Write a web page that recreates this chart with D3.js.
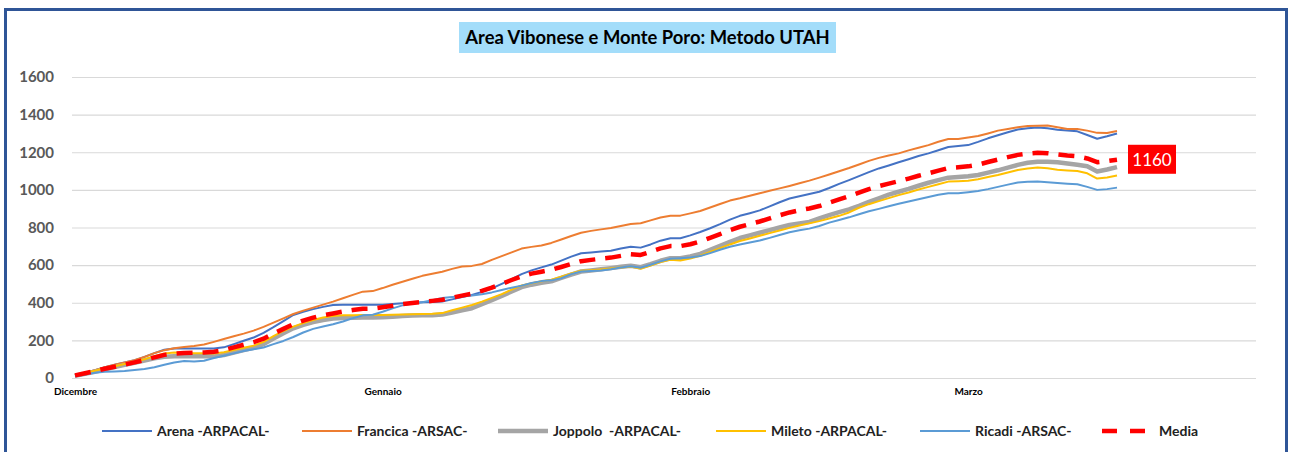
<!DOCTYPE html>
<html>
<head>
<meta charset="utf-8">
<script src="https://cdn.jsdelivr.net/npm/d3@7"></script>
<style>
  body { margin: 0; background: #fff; }
  svg { display: block; font-family: Lato, "Open Sans", sans-serif; }
</style>
</head>
<body>
<div id="chart"></div>
<script>
// daily readings, 1 Dec -> 16 Mar (index = day)
const arena = [15,28,42,57,70,82,95,112,132,150,157,157,157,157,157,163,180,198,215,240,270,302,335,352,366,378,388,390,390,390,390,390,393,397,400,402,404,407,418,430,441,458,476,500,525,552,572,588,603,624,645,663,667,672,676,688,698,693,710,730,743,743,758,776,796,818,842,862,876,891,912,934,954,966,978,990,1010,1032,1052,1073,1094,1114,1130,1147,1163,1180,1194,1211,1228,1233,1238,1255,1274,1290,1306,1321,1327,1331,1327,1320,1315,1311,1292,1272,1285,1300];
const francica = [15,28,42,57,70,82,95,112,132,148,158,165,170,178,192,207,222,236,252,272,294,317,340,358,374,390,406,424,442,459,462,478,496,512,528,543,554,565,580,593,596,606,628,648,668,688,697,704,718,736,755,772,782,790,797,808,819,823,838,853,863,863,875,888,906,925,943,955,969,982,995,1008,1021,1035,1049,1065,1082,1099,1116,1135,1154,1170,1183,1194,1210,1224,1238,1256,1270,1271,1278,1286,1300,1315,1324,1333,1339,1341,1342,1333,1324,1323,1315,1303,1302,1313];
const joppolo = [12,22,33,46,58,70,81,93,105,113,116,116,115,115,115,122,135,148,160,180,210,238,264,282,297,308,316,319,320,321,322,323,325,330,332,333,334,337,348,360,371,392,414,436,460,483,496,506,514,532,550,566,572,578,584,591,597,589,605,623,637,637,646,660,681,702,724,744,758,772,786,800,813,822,830,848,866,882,896,915,936,955,975,990,1005,1022,1038,1052,1065,1069,1072,1079,1092,1104,1118,1133,1144,1150,1150,1147,1140,1133,1126,1098,1108,1121];
const mileto = [15,27,39,52,63,74,86,100,116,130,135,134,132,131,130,137,149,161,172,192,222,250,273,292,308,322,330,333,334,335,335,335,336,338,339,340,341,345,360,374,388,406,426,446,470,492,504,514,522,538,556,570,573,577,582,587,592,581,598,616,628,624,635,650,670,690,710,728,742,756,770,784,798,811,822,834,848,862,880,905,924,940,956,972,986,1002,1016,1030,1044,1046,1048,1056,1068,1079,1092,1106,1114,1119,1115,1107,1103,1100,1088,1060,1066,1076];
const ricadi = [8,18,28,33,35,37,42,48,57,70,82,90,88,92,106,118,131,143,153,162,180,197,218,242,261,274,286,300,318,333,336,352,370,386,396,403,414,425,430,434,438,445,455,468,480,491,505,515,519,530,552,566,569,572,578,587,594,586,602,620,634,637,641,648,664,682,698,710,720,731,745,760,775,785,794,808,826,840,854,870,886,899,913,926,938,950,962,974,982,982,988,994,1004,1016,1028,1039,1043,1044,1041,1037,1033,1030,1016,1000,1004,1012];
const media = [14,25,37,49,60,71,83,96,110,123,130,133,134,136,140,148,163,177,190,209,236,261,286,305,321,334,343,353,361,368,369,376,384,393,399,404,410,416,427,438,448,463,480,500,521,541,555,565,575,590,606,621,628,634,640,649,658,654,671,689,701,701,711,726,745,765,786,804,818,832,848,865,880,892,901,914,932,949,966,985,1004,1020,1033,1046,1060,1075,1088,1102,1116,1120,1125,1134,1148,1161,1174,1186,1193,1197,1195,1189,1183,1179,1167,1147,1153,1160];

const monthLabels = ["Dicembre", "Gennaio", "Febbraio", "Marzo"];
const monthDays = [0, 31, 62, 90];
const yTicks = [0, 200, 400, 600, 800, 1000, 1200, 1400, 1600];

const seriesNames = ["Arena -ARPACAL-", "Francica -ARSAC-", "Joppolo  -ARPACAL-", "Mileto -ARPACAL-", "Ricadi -ARSAC-", "Media"];
const seriesColors = ["#4472C4", "#ED7D31", "#A5A5A5", "#FFC000", "#5B9BD5", "#FF0000"];
const seriesWidths = [2, 2, 4.5, 2, 2, 4.5];
const seriesValues = [arena, francica, joppolo, mileto, ricadi, media];

const width = 1290, height = 452;
const plotLeft = 72, plotRight = 1256;

const svg = d3.select("#chart").append("svg")
    .attr("width", width)
    .attr("height", height);

// outer frame
svg.append("rect")
    .attr("x", 5.5)
    .attr("y", 9.5)
    .attr("width", 1281)
    .attr("height", 470)
    .attr("fill", "#fff")
    .attr("stroke", "#2F5597")
    .attr("stroke-width", 3);

const x = d3.scaleLinear()
    .domain([0, 105])
    .range([75, 1117]);

const y = d3.scaleLinear()
    .domain([0, 1600])
    .range([378, 77]);

// y axis + gridlines
const yAxis = svg.append("g")
    .attr("transform", `translate(${plotLeft},0)`)
    .call(d3.axisLeft(y)
        .tickValues(yTicks)
        .tickFormat(d3.format("d"))
        .tickSizeInner(-(plotRight - plotLeft))
        .tickSizeOuter(0)
        .tickPadding(18));

yAxis.select(".domain").remove();
yAxis.selectAll(".tick line")
    .attr("stroke", "#D9D9D9")
    .attr("stroke-width", 1.2);
yAxis.selectAll(".tick text")
    .attr("fill", "#595959")
    .style("font-size", "15px")
    .style("font-weight", "bold")
    .style("font-family", "Lato, sans-serif");

// x axis (month labels)
const xAxis = svg.append("g")
    .attr("transform", "translate(0,378)")
    .call(d3.axisBottom(x)
        .tickValues(monthDays)
        .tickFormat((d, i) => monthLabels[i])
        .tickSize(0)
        .tickPadding(10));

xAxis.select(".domain").remove();
xAxis.selectAll(".tick text")
    .attr("fill", "#000")
    .style("font-size", "10px")
    .style("font-weight", "bold")
    .style("font-family", "Lato, sans-serif");

// lines
const line = d3.line()
    .x((d, i) => x(i))
    .y(d => y(d));

seriesValues.forEach((vals, k) => {
    svg.append("path")
        .datum(vals)
        .attr("fill", "none")
        .attr("stroke", seriesColors[k])
        .attr("stroke-width", seriesWidths[k])
        .attr("stroke-linejoin", "round")
        .attr("stroke-dasharray", k === 5 ? "16,10" : null)
        .attr("d", line);
});

// title box
const title = svg.append("g");
title.append("rect")
    .attr("x", 459)
    .attr("y", 22)
    .attr("width", 377)
    .attr("height", 31)
    .attr("fill", "#A3DDFA");
title.append("text")
    .attr("x", 647.5)
    .attr("y", 38)
    .attr("dy", "0.35em")
    .attr("text-anchor", "middle")
    .attr("fill", "#000")
    .style("font-size", "18.4px")
    .style("font-weight", "bold")
    .text("Area Vibonese e Monte Poro: Metodo UTAH");

// last value label
const last = media.length - 1;
const lab = svg.append("g")
    .attr("transform", `translate(${x(last) + 11},${y(media[last])})`);
lab.append("rect")
    .attr("x", 0)
    .attr("y", -15)
    .attr("width", 48)
    .attr("height", 29)
    .attr("fill", "#FF0000");
lab.append("text")
    .attr("x", 24)
    .attr("y", 0)
    .attr("dy", "0.35em")
    .attr("text-anchor", "middle")
    .attr("fill", "#fff")
    .style("font-size", "17px")
    .text(media[last]);

// legend
const legendX = [102, 302, 498, 716, 920, 1102];
const legend = svg.append("g").attr("transform", "translate(0,431)");
seriesNames.forEach((name, k) => {
    legend.append("line")
        .attr("x1", legendX[k])
        .attr("x2", legendX[k] + (k === 5 ? 43 : 50))
        .attr("y1", 0)
        .attr("y2", 0)
        .attr("stroke", seriesColors[k])
        .attr("stroke-width", seriesWidths[k])
        .attr("stroke-dasharray", k === 5 ? "15,13" : null);
    legend.append("text")
        .attr("x", legendX[k] + (k === 5 ? 57 : 55))
        .attr("y", 0)
        .attr("dy", "0.35em")
        .attr("fill", "#222")
        .style("font-size", "14px")
        .style("font-weight", "bold")
        .style("white-space", "pre")
        .attr("xml:space", "preserve")
        .text(name);
});
</script>
</body>
</html>
